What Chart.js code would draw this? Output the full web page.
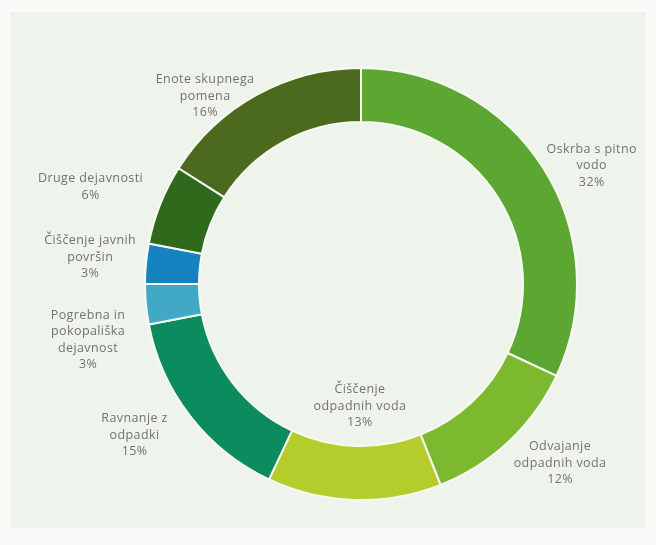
<!DOCTYPE html>
<html>
<head>
<meta charset="utf-8">
<script src="https://cdn.jsdelivr.net/npm/chart.js@4.4.1/dist/chart.umd.min.js"></script>
<style>
html,body{margin:0;padding:0;background:#f9fbf8;}
canvas{display:block;}
</style>
</head>
<body>
<canvas id="c" width="656" height="545"></canvas>
<script>
// Categories (label lines), shares in %, segment colours
const categories = [
  ["Oskrba s pitno", "vodo"],
  ["Odvajanje", "odpadnih voda"],
  ["Čiščenje", "odpadnih voda"],
  ["Ravnanje z", "odpadki"],
  ["Pogrebna in", "pokopališka", "dejavnost"],
  ["Čiščenje javnih", "površin"],
  ["Druge dejavnosti"],
  ["Enote skupnega", "pomena"]
];
const shares = [32, 12, 13, 15, 3, 3, 6, 16];
const segmentColors = ["#5ba732", "#7cb92f", "#b5cc2d", "#0b8b5e", "#41a9c6", "#1683c0", "#2e691c", "#4c6a1e"];

// label placement: [angle shift in degrees, distance as multiple of outer radius]
const labelPlacement = [[5.3, 1.20], [-4.8, 1.24], [-1.3, 0.565], [4.1, 1.26], [-6.2, 1.29], [0.3, 1.26], [-1.9, 1.33], [-10.9, 1.13]];

const panelPlugin = {
  id: 'panel',
  beforeDraw(chart) {
    const ctx = chart.ctx;
    ctx.save();
    ctx.fillStyle = '#f9fbf8';
    ctx.fillRect(0, 0, chart.width, chart.height);
    ctx.fillStyle = '#eef4ec';
    ctx.fillRect(10, 12, 636, 516);
    ctx.restore();
  }
};

const labelPlugin = {
  id: 'sliceLabels',
  afterDatasetsDraw(chart) {
    const ctx = chart.ctx;
    const meta = chart.getDatasetMeta(0);
    ctx.save();
    ctx.font = '12.5px "Open Sans", "DejaVu Sans", sans-serif';
    try { ctx.letterSpacing = '0.4px'; } catch (e) {}
    ctx.fillStyle = '#727272';
    ctx.textAlign = 'center';
    ctx.textBaseline = 'middle';
    const lh = 16.5;
    meta.data.forEach((arc, i) => {
      const p = arc.getProps(['x', 'y', 'startAngle', 'endAngle', 'outerRadius'], true);
      const place = labelPlacement[i];
      const a = (p.startAngle + p.endAngle) / 2 + place[0] * Math.PI / 180;
      const r = p.outerRadius * place[1];
      const cx = p.x + r * Math.cos(a);
      const cy = p.y + r * Math.sin(a);
      const lines = categories[i].concat([shares[i] + '%']);
      const y0 = cy - (lines.length - 1) * lh / 2;
      lines.forEach((t, k) => ctx.fillText(t, cx, y0 + k * lh));
    });
    ctx.restore();
  }
};

new Chart(document.getElementById('c'), {
  type: 'doughnut',
  data: {
    labels: categories,
    datasets: [{
      data: shares,
      backgroundColor: segmentColors,
      borderColor: '#f7faf2',
      borderWidth: 2
    }]
  },
  options: {
    responsive: false,
    devicePixelRatio: 1,
    animation: false,
    cutout: '75%',
    layout: { padding: { left: 144, right: 78, top: 67, bottom: 44 } },
    plugins: {
      legend: { display: false },
      tooltip: { enabled: false }
    }
  },
  plugins: [panelPlugin, labelPlugin]
});
</script>
</body>
</html>
